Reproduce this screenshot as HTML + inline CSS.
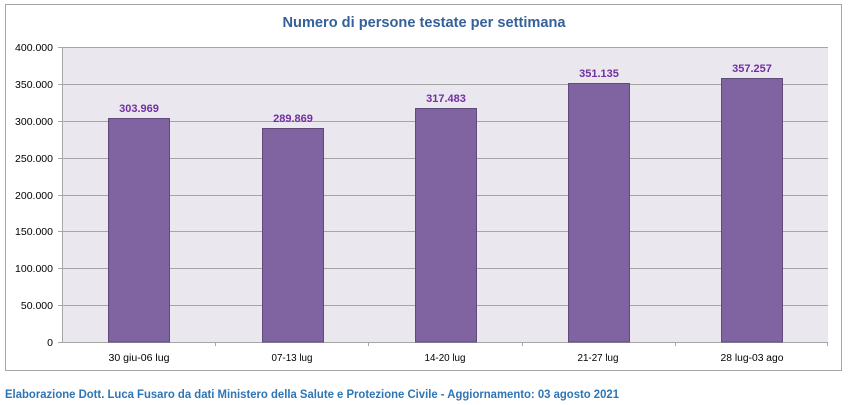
<!DOCTYPE html>
<html><head><meta charset="utf-8"><style>
html,body{margin:0;padding:0;background:#fff;}
svg{display:block;}
text{font-family:"Liberation Sans",sans-serif;}
</style></head><body>
<svg width="850" height="405" viewBox="0 0 850 405" xmlns="http://www.w3.org/2000/svg">
<rect x="5.5" y="4.5" width="836" height="366" fill="#fff" stroke="#a6a6a6" stroke-width="1"/>
<text x="424" y="27" text-anchor="middle" font-size="14.5" font-weight="bold" fill="#35609a" textLength="283" lengthAdjust="spacingAndGlyphs">Numero di persone testate per settimana</text>
<rect x="62" y="47" width="766" height="295" fill="#ebe7ef"/>
<g stroke="#a6a6a6" stroke-width="1">
<line x1="62" y1="47.5" x2="828" y2="47.5"/>
<line x1="62" y1="84.5" x2="828" y2="84.5"/>
<line x1="62" y1="121.5" x2="828" y2="121.5"/>
<line x1="62" y1="158.5" x2="828" y2="158.5"/>
<line x1="62" y1="195.5" x2="828" y2="195.5"/>
<line x1="62" y1="231.5" x2="828" y2="231.5"/>
<line x1="62" y1="268.5" x2="828" y2="268.5"/>
<line x1="62" y1="305.5" x2="828" y2="305.5"/>
<line x1="62.5" y1="47" x2="62.5" y2="342"/>
<line x1="58" y1="342.5" x2="828" y2="342.5"/>
<line x1="58" y1="47.5" x2="62" y2="47.5"/>
<line x1="58" y1="84.5" x2="62" y2="84.5"/>
<line x1="58" y1="121.5" x2="62" y2="121.5"/>
<line x1="58" y1="158.5" x2="62" y2="158.5"/>
<line x1="58" y1="195.5" x2="62" y2="195.5"/>
<line x1="58" y1="231.5" x2="62" y2="231.5"/>
<line x1="58" y1="268.5" x2="62" y2="268.5"/>
<line x1="58" y1="305.5" x2="62" y2="305.5"/>
<line x1="215.5" y1="342" x2="215.5" y2="346"/>
<line x1="368.5" y1="342" x2="368.5" y2="346"/>
<line x1="522.5" y1="342" x2="522.5" y2="346"/>
<line x1="675.5" y1="342" x2="675.5" y2="346"/>
<line x1="827.5" y1="342" x2="827.5" y2="346"/>
</g>
<g fill="#000" font-size="10.5" text-anchor="end">
<text x="53" y="51">400.000</text>
<text x="53" y="88">350.000</text>
<text x="53" y="125">300.000</text>
<text x="53" y="162">250.000</text>
<text x="53" y="199">200.000</text>
<text x="53" y="235">150.000</text>
<text x="53" y="272">100.000</text>
<text x="53" y="309">50.000</text>
<text x="53" y="346">0</text>
</g>
<g fill="#8064a2" stroke="#5f4a7a" stroke-width="1">
<rect x="108.5" y="118.5" width="61" height="223.5"/>
<rect x="262.5" y="128.5" width="61" height="213.5"/>
<rect x="415.5" y="108.5" width="61" height="233.5"/>
<rect x="568.5" y="83.5" width="61" height="258.5"/>
<rect x="721.5" y="78.5" width="61" height="263.5"/>
</g>
<g fill="#7030a0" font-size="11" font-weight="bold" text-anchor="middle">
<text x="139" y="112">303.969</text>
<text x="293" y="122">289.869</text>
<text x="446" y="102">317.483</text>
<text x="599" y="77">351.135</text>
<text x="752" y="72">357.257</text>
</g>
<g fill="#000" font-size="10" text-anchor="middle">
<text x="139" y="361" textLength="61" lengthAdjust="spacingAndGlyphs">30 giu-06 lug</text>
<text x="292" y="361" textLength="41" lengthAdjust="spacingAndGlyphs">07-13 lug</text>
<text x="445" y="361" textLength="41" lengthAdjust="spacingAndGlyphs">14-20 lug</text>
<text x="598" y="361" textLength="41" lengthAdjust="spacingAndGlyphs">21-27 lug</text>
<text x="752" y="361" textLength="63" lengthAdjust="spacingAndGlyphs">28 lug-03 ago</text>
</g>
<text x="5" y="398" font-size="11.5" font-weight="bold" fill="#2e75b6" textLength="614" lengthAdjust="spacingAndGlyphs">Elaborazione Dott. Luca Fusaro da dati Ministero della Salute e Protezione Civile - Aggiornamento: 03 agosto 2021</text>
</svg>
</body></html>
